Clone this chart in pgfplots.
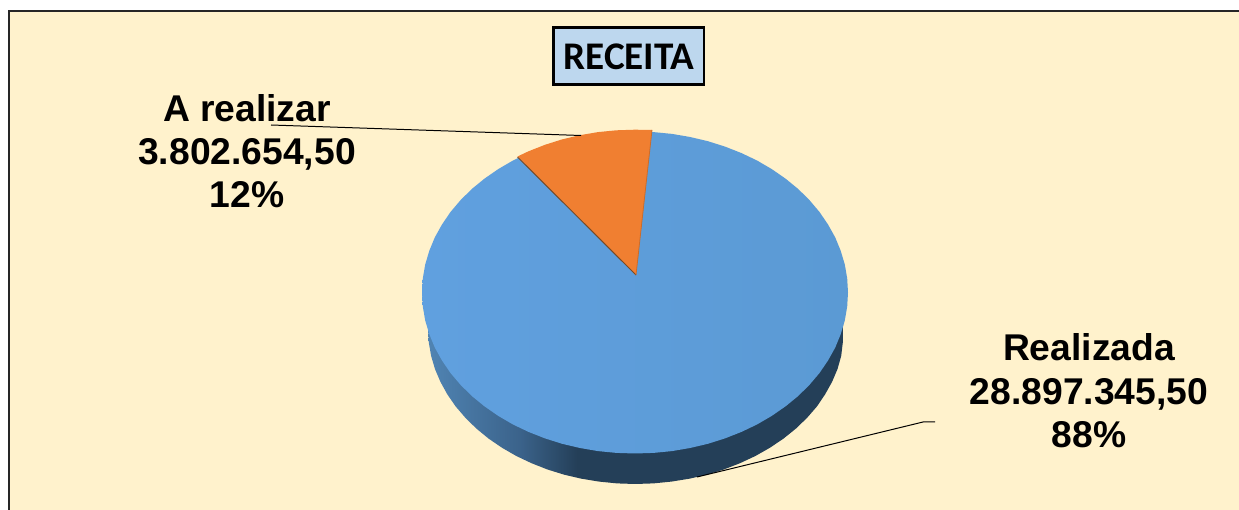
\documentclass[border=0pt]{standalone}
\usepackage{fontspec}
\usepackage{pgfplots}
\pgfplotsset{compat=1.18}
\setmainfont{Liberation Sans}
\newfontfamily\carlito{Carlito}
\definecolor{cream}{HTML}{FFF2CC}
\definecolor{titlebox}{HTML}{BDD7EE}
\definecolor{facea}{HTML}{60A0DF}
\definecolor{faceb}{HTML}{5B9AD4}
\definecolor{wedge}{HTML}{F07F31}
\definecolor{wedgeedge}{HTML}{7A4A22}
\definecolor{sideL}{HTML}{5084B3}
\definecolor{sideM}{HTML}{3B638B}
\definecolor{sideD}{HTML}{243F58}
\pgfdeclarehorizontalshading{sidewall}{100bp}{color(0bp)=(sideL); color(25bp)=(sideL); color(36bp)=(sideM); color(43bp)=(sideD); color(100bp)=(sideD)}
\newcommand{\lbl}{\fontsize{37.4}{40}\selectfont\bfseries}
\begin{document}
\begin{tikzpicture}
\begin{axis}[
  scale only axis, width=1239bp, height=510bp,
  xmin=0, xmax=1239, ymin=0, ymax=510, y dir=reverse,
  hide axis, clip=false]
% page and frame
\fill[white] (axis cs:0,0) rectangle (axis cs:1239,510);
\fill[cream] (axis cs:9,11) rectangle (axis cs:1239,510);
\fill[black!85] (axis cs:8,10) rectangle (axis cs:1239,12);
\fill[black!85] (axis cs:8,10) rectangle (axis cs:10,510);
% side wall
\addplot[draw=none, shade, shading=sidewall] coordinates {
(838,315)(843,325)(842.8,342.5)(841.2,355.9)(837.5,369.1)(832,382)(825,394.5)(816.9,406.5)(807.1,417.8)(795.9,428.6)(783.5,438.6)(770,447.7)(755.4,456)(740,463.2)(723.8,469.5)(706.8,474.7)(689.4,478.7)(671.4,481.6)(653.3,483.4)(635,484)
(617,483.4)(599.1,481.6)(581.4,478.7)(564.2,474.7)(547.5,469.5)(531.5,463.2)(516.3,456)(501.9,447.7)(488.6,438.6)(476.4,428.6)(465.4,417.8)(455.7,406.5)(447.4,394.5)(440.5,382)(435,369.1)(431.1,355.9)(428.8,342.5)(428,329)
} -- cycle;
% Realizada face
\addplot[draw=none, left color=facea, right color=faceb] coordinates {
(635,131.5)(653.6,132.1)(672,133.9)(690.1,137)(707.9,141.2)(725,146.6)(741.5,153.1)(757.2,160.6)(771.9,169.2)(785.6,178.7)(798.2,189)(809.5,200.2)(819.5,212)(828,224.5)(835.2,237.4)(840.7,250.8)(844.8,264.5)(847.2,278.5)(848,292.5)
(847.2,306.5)(844.8,320.5)(840.7,334.2)(835.2,347.6)(828,360.5)(819.5,373)(809.5,384.8)(798.2,396)(785.6,406.3)(771.9,415.8)(757.2,424.4)(741.5,431.9)(725,438.4)(707.9,443.8)(690.1,448)(672,451.1)(653.6,452.9)(635,453.5)
(616.4,452.9)(598,451.1)(579.9,448)(562.1,443.8)(545,438.4)(528.5,431.9)(512.8,424.4)(498.1,415.8)(484.4,406.3)(471.8,396)(460.5,384.8)(450.5,373)(442,360.5)(434.8,347.6)(429.3,334.2)(425.2,320.5)(422.8,306.5)(422,292.5)
(422.8,278.5)(425.2,264.5)(429.3,250.8)(434.8,237.4)(442,224.5)(450.5,212)(460.5,200.2)(471.8,189)(484.4,178.7)(498.1,169.2)(512.8,160.6)(528.5,153.1)(545,146.6)(562.1,141.2)(579.9,137)(598,133.9)(616.4,132.1)
} -- cycle;
% A realizar wedge
\addplot[draw=none, fill=wedge] coordinates {
(636,275)(517.5,156.5)(528.5,151.3)(545,144.8)(562.1,139.4)(579.9,135.2)(598,132.1)(616.4,130.3)(635,129.7)(652,130)
} -- cycle;
\addplot[wedgeedge, line width=1pt, no markers] coordinates {(517.5,157)(636,275)};
\addplot[wedge!85!black, line width=0.8pt, no markers] coordinates {(636,275)(652,130)};
% leader lines
\addplot[black, line width=1pt, no markers] coordinates {(271,125)(581,135.5)};
\addplot[black, line width=1pt, no markers] coordinates {(697,477)(923,422)(935,422)};
% title
\draw[black, line width=2.4pt, fill=titlebox] (axis cs:553.5,27.5) rectangle (axis cs:704,84.5);
\node[anchor=base, inner sep=0pt] at (axis cs:629,69.5) {\carlito\fontsize{39.3}{42}\selectfont\bfseries RECEITA};
% labels
\node[anchor=base, inner sep=0pt] at (axis cs:247,122) {\lbl A realizar};
\node[anchor=base, inner sep=0pt] at (axis cs:247,164.5) {\lbl 3.802.654,50};
\node[anchor=base, inner sep=0pt] at (axis cs:247,207.5) {\lbl 12\%};
\node[anchor=base, inner sep=0pt] at (axis cs:1089,361) {\lbl Realizada};
\node[anchor=base, inner sep=0pt] at (axis cs:1089,404.5) {\lbl 28.897.345,50};
\node[anchor=base, inner sep=0pt] at (axis cs:1089,447.5) {\lbl 88\%};
\end{axis}
\end{tikzpicture}
\end{document}
